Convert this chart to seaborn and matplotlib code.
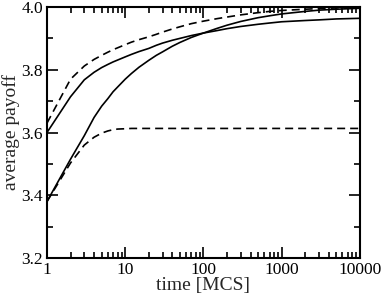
import numpy as np
import pandas as pd
import seaborn as sns
import matplotlib.pyplot as plt
from matplotlib.ticker import LogLocator, MultipleLocator, FixedLocator, FixedFormatter

# time points (MCS) and average payoff
times = [1, 2, 3, 4, 5, 6, 7, 8, 10, 12, 15, 20, 25, 30, 40, 50, 70, 100,
         150, 200, 300, 500, 700, 1000, 2000, 3000, 5000, 10000]

solid_a = [3.600, 3.714, 3.768, 3.792, 3.807, 3.817, 3.825, 3.831, 3.841, 3.849,
           3.858, 3.868, 3.878, 3.885, 3.894, 3.900, 3.909, 3.917, 3.925, 3.931,
           3.938, 3.945, 3.949, 3.953, 3.957, 3.959, 3.962, 3.964]
solid_b = [3.380, 3.515, 3.590, 3.648, 3.684, 3.708, 3.730, 3.745, 3.770, 3.788,
           3.808, 3.830, 3.846, 3.857, 3.875, 3.887, 3.903, 3.917, 3.932, 3.942,
           3.954, 3.966, 3.972, 3.978, 3.986, 3.990, 3.993, 3.996]
dashed_a = [3.630, 3.770, 3.812, 3.833, 3.846, 3.856, 3.864, 3.870, 3.880, 3.888,
            3.896, 3.905, 3.913, 3.920, 3.930, 3.937, 3.947, 3.955, 3.963, 3.968,
            3.975, 3.982, 3.986, 3.989, 3.993, 3.995, 3.997, 3.998]
dashed_b = [3.380, 3.503, 3.560, 3.585, 3.598, 3.605, 3.609, 3.611, 3.612, 3.613,
            3.613, 3.613, 3.613, 3.613, 3.613, 3.613, 3.613, 3.613, 3.613, 3.613,
            3.613, 3.613, 3.613, 3.613, 3.613, 3.613, 3.613, 3.613]

x_ticks = [1, 10, 100, 1000, 10000]
x_ticklabels = ['1', '10', '100', '1000', '10000']

sns.set_style('ticks')
plt.rcParams['font.family'] = ['Liberation Serif', 'DejaVu Serif']

fig = plt.figure(figsize=(3.82, 2.95), dpi=100)
ax = fig.add_axes([0.123, 0.1254, 0.819, 0.8508])

series = [(solid_a, '-'), (solid_b, '-'), (dashed_a, '--'), (dashed_b, '--')]
for vals, ls in series:
    df = pd.DataFrame({'time': times, 'payoff': vals})
    sns.lineplot(data=df, x='time', y='payoff', color='black', linewidth=1.2,
                 linestyle=ls, ax=ax, clip_on=False)
for line in ax.lines:
    if line.get_linestyle() == '--':
        line.set_dashes([4.8, 3])

ax.set_xscale('log')
ax.set_xlim(1, 10000)
ax.set_ylim(3.2, 4.0)
ax.xaxis.set_major_locator(FixedLocator(x_ticks))
ax.xaxis.set_major_formatter(FixedFormatter(x_ticklabels))
ax.xaxis.set_minor_locator(LogLocator(base=10, subs=np.arange(2, 10)))
ax.xaxis.set_minor_formatter(plt.NullFormatter())
ax.yaxis.set_major_locator(MultipleLocator(0.2))
ax.yaxis.set_minor_locator(MultipleLocator(0.1))
ax.yaxis.set_major_formatter(plt.FormatStrFormatter('%.1f'))

ax.tick_params(which='both', direction='in', top=True, right=True, width=1.2,
               labelsize=12.5, colors='black')
ax.tick_params(which='major', length=8, pad=3)
ax.tick_params(which='minor', length=4)
for sp in ax.spines.values():
    sp.set_linewidth(1.5)
    sp.set_color('black')

ax.set_xlabel('time [MCS]', fontsize=14, labelpad=-1)
ax.set_ylabel('average payoff', fontsize=14, labelpad=1)

fig.savefig('out.png', dpi=100)
